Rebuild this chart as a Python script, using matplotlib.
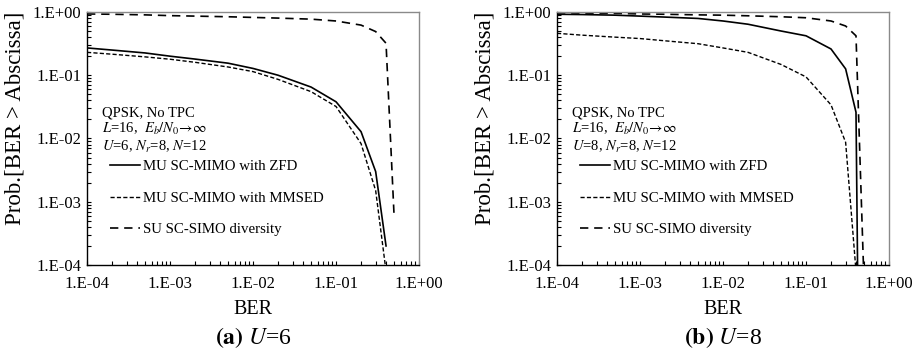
import math
import matplotlib
matplotlib.use("Agg")
import matplotlib.pyplot as plt
from matplotlib.ticker import LogLocator, FuncFormatter, NullFormatter

plt.rcParams['font.family'] = ['Liberation Serif', 'DejaVu Serif']
plt.rcParams['mathtext.fontset'] = 'stix'

# BER grid (abscissa)
ber = [1e-4, 2e-4, 5e-4, 1e-3, 2e-3, 5e-3, 1e-2, 2e-2, 5e-2, 1e-1, 2e-1, 3e-1, 4e-1]
ber_su = ber + [5e-1]
ber_zfd_b = ber + [4.2e-1]

# (a) U=6
zfd_a = [0.27, 0.25, 0.225, 0.2, 0.18, 0.155, 0.128, 0.1, 0.065, 0.038, 0.0128, 0.003, 2e-4]
mmsed_a = [0.23, 0.215, 0.195, 0.179, 0.16, 0.135, 0.114, 0.086, 0.055, 0.032, 0.0083, 0.0015, 8e-5]
su_a = [0.93, 0.92, 0.9, 0.875, 0.86, 0.84, 0.82, 0.8, 0.77, 0.72, 0.62, 0.49, 0.32, 6e-4]

# (b) U=8
zfd_b = [0.92, 0.91, 0.89, 0.86, 0.83, 0.79, 0.72, 0.64, 0.5, 0.42, 0.26, 0.126, 0.026, 5e-5]
mmsed_b = [0.46, 0.43, 0.40, 0.38, 0.35, 0.315, 0.27, 0.23, 0.148, 0.094, 0.034, 0.0087, 8e-5]
su_b = [0.97, 0.96, 0.95, 0.93, 0.92, 0.9, 0.89, 0.87, 0.84, 0.81, 0.72, 0.6, 0.42, 5e-5]

labels = ['MU SC-MIMO with ZFD', 'MU SC-MIMO with MMSED', 'SU SC-SIMO diversity']
captions = [r'$\mathbf{(a)}$ $U$=6', r'$\mathbf{(b)}$ $U$=8']
info_u = [6, 8]


def fmt(v, pos):
    e = int(round(math.log10(v)))
    return '1.E%s%02d' % ('+' if e >= 0 else '-', abs(e))


fig = plt.figure(figsize=(9.17, 3.52), dpi=100)
ax_a = fig.add_axes([0.0949, 0.2472, 0.3621, 0.7188])
ax_b = fig.add_axes([0.6074, 0.2472, 0.3621, 0.7188])

panels = [
    (ax_a, zfd_a, mmsed_a, su_a, ber),
    (ax_b, zfd_b, mmsed_b, su_b, ber_zfd_b),
]

for i, (ax, zfd, mmsed, su, bz) in enumerate(panels):
    ax.plot(bz, zfd, color='black', lw=1.2, ls='-', label=labels[0])
    ax.plot(ber, mmsed, color='black', lw=1.0, ls=(0, (3, 1.6)), label=labels[1])
    ax.plot(ber_su, su, color='black', lw=1.2, ls=(0, (5, 3.5)), label=labels[2])

    ax.set_xscale('log')
    ax.set_yscale('log')
    ax.set_xlim(1e-4, 1)
    ax.set_ylim(1e-4, 1)
    ax.xaxis.set_major_locator(LogLocator(base=10, numticks=10))
    ax.yaxis.set_major_locator(LogLocator(base=10, numticks=10))
    ax.xaxis.set_major_formatter(FuncFormatter(fmt))
    ax.yaxis.set_major_formatter(FuncFormatter(fmt))
    ax.xaxis.set_minor_formatter(NullFormatter())
    ax.yaxis.set_minor_formatter(NullFormatter())
    ax.tick_params(which='both', direction='in', labelsize=12, width=0.8)
    ax.tick_params(which='major', length=3)
    ax.tick_params(which='minor', length=3)
    ax.tick_params(axis='x', pad=8)
    ax.tick_params(axis='y', pad=4)

    for s in ['left', 'bottom']:
        ax.spines[s].set_color('black')
        ax.spines[s].set_linewidth(1.0)
    for s in ['top', 'right']:
        ax.spines[s].set_color('#8a8a8a')
        ax.spines[s].set_linewidth(1.0)

    ax.set_xlabel('BER', fontsize=14.5, labelpad=6)
    ax.set_ylabel('Prob.[BER > Abscissa]', fontsize=16.5)
    ax.yaxis.set_label_coords(-0.185, 0.58)

    ax.text(0.045, 0.60, 'QPSK, No TPC', transform=ax.transAxes, fontsize=10.5, va='center')
    ax.text(0.045, 0.538, r'$L$=16,  $E_b/N_0\!\rightarrow\!\infty$', transform=ax.transAxes,
            fontsize=10.5, va='center')
    ax.text(0.045, 0.466, r'$U$=%d, $N_r$=8, $N$=12' % info_u[i], transform=ax.transAxes,
            fontsize=10.5, va='center')

    ax.legend(loc='upper left', bbox_to_anchor=(0.069, 0.415), frameon=False, fontsize=10.7,
              borderpad=0, borderaxespad=0, handlelength=2.0, handletextpad=0.25,
              labelspacing=1.22)

    cx = (ax.get_position().x0 + ax.get_position().x1) / 2
    fig.text(cx, 1 - 338 / 352, captions[i], ha='center', va='center', fontsize=17)

fig.savefig('out.png', dpi=100)
